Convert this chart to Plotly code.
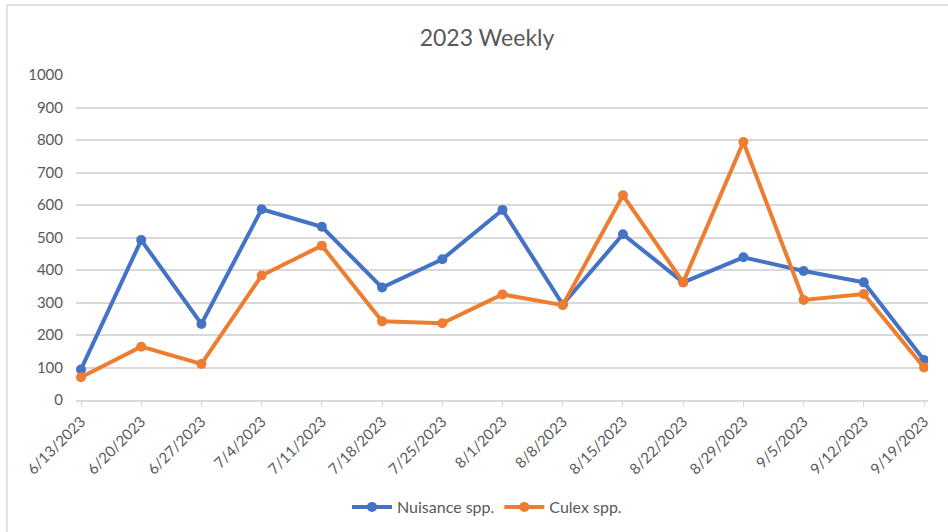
import plotly.graph_objects as go

dates = ["6/13/2023", "6/20/2023", "6/27/2023", "7/4/2023", "7/11/2023", "7/18/2023",
         "7/25/2023", "8/1/2023", "8/8/2023", "8/15/2023", "8/22/2023", "8/29/2023",
         "9/5/2023", "9/12/2023", "9/19/2023"]
nuisance = [94, 492, 234, 587, 533, 346, 433, 585, 294, 510, 362, 439, 397, 362, 123]
culex = [70, 164, 111, 383, 475, 242, 236, 325, 292, 630, 362, 794, 308, 326, 100]
y_ticks = [0, 100, 200, 300, 400, 500, 600, 700, 800, 900, 1000]

W, H = 948, 532
L, R, T, B = 76, 20, 75, 132
pw, ph = W - L - R, H - T - B

FONT = "Lato, Open Sans, sans-serif"
GRAY = "#595959"

fig = go.Figure()
fig.add_trace(go.Scatter(x=list(range(len(dates))), y=nuisance, name="Nuisance spp.",
                         mode="lines+markers",
                         line=dict(color="#4472C4", width=4),
                         marker=dict(color="#4472C4", size=10)))
fig.add_trace(go.Scatter(x=list(range(len(dates))), y=culex, name="Culex spp.",
                         mode="lines+markers",
                         line=dict(color="#ED7D31", width=4),
                         marker=dict(color="#ED7D31", size=10)))

def px_x(p):
    return (p - L) / pw

def px_y(p):
    return (H - B - p) / ph

shapes = [
    dict(type="line", xref="paper", yref="paper", x0=px_x(7), x1=px_x(948), y0=px_y(5), y1=px_y(5),
         line=dict(color="#D9D9D9", width=1.5)),
    dict(type="line", xref="paper", yref="paper", x0=px_x(7), x1=px_x(7), y0=px_y(5), y1=px_y(532),
         line=dict(color="#D9D9D9", width=1.5)),
]

fig.update_layout(
    width=W, height=H,
    margin=dict(l=L, r=R, t=T, b=B, autoexpand=False),
    paper_bgcolor="white", plot_bgcolor="white",
    font=dict(family=FONT, color=GRAY, size=15),
    title=dict(text="2023 Weekly", x=487 / W, xanchor="center", y=1 - 38 / H, yanchor="middle",
               font=dict(size=23, color=GRAY, family=FONT)),
    xaxis=dict(tickmode="array", tickvals=list(range(len(dates))), ticktext=dates,
               tickangle=-45, range=[-0.083, 14.066], showgrid=False, zeroline=False,
               showline=True, linecolor="#D9D9D9", linewidth=2,
               ticks="outside", ticklen=5, tickcolor="#D9D9D9",
               tickfont=dict(size=15, color=GRAY)),
    yaxis=dict(range=[0, 1000], tickmode="array", tickvals=y_ticks,
               showgrid=True, gridcolor="#D9D9D9", gridwidth=1.5, zeroline=False,
               showline=False, ticks="", ticklabelstandoff=12,
               tickfont=dict(size=15, color=GRAY)),
    legend=dict(orientation="h", x=px_x(487), xanchor="center", y=px_y(507), yanchor="middle",
                font=dict(size=16, color=GRAY), itemwidth=40),
    shapes=shapes,
    showlegend=True,
)

fig.write_html("out.html", config={"displayModeBar": False},
               post_script="document.body.style.margin='0';")
